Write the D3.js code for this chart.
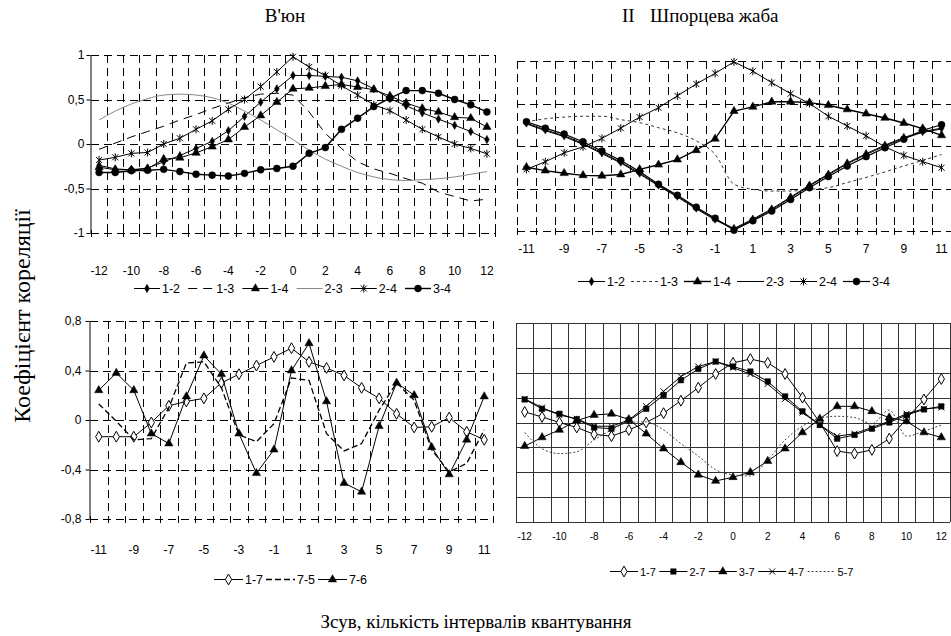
<!DOCTYPE html>
<html lang="uk">
<head>
<meta charset="UTF-8">
<title>Коефіцієнт кореляції</title>
<script src="https://d3js.org/d3.v7.min.js"></script>
<style>
  body { margin: 0; background: #fff; }
  svg { display: block; }
  .caption { font-family: "Liberation Serif", "Times New Roman", serif; fill: #000; }
  .lbl { font-family: "Liberation Sans", Arial, sans-serif; fill: #000; }
</style>
</head>
<body>
<svg id="chart" width="951" height="636"></svg>
<script>
// shifts (quantisation intervals)
const lagsEven = [-12,-11,-10,-9,-8,-7,-6,-5,-4,-3,-2,-1,0,1,2,3,4,5,6,7,8,9,10,11,12];
const lagsOdd  = [-11,-10,-9,-8,-7,-6,-5,-4,-3,-2,-1,0,1,2,3,4,5,6,7,8,9,10,11];
const ticksEven = [-12,-10,-8,-6,-4,-2,0,2,4,6,8,10,12];
const ticksOdd  = [-11,-9,-7,-5,-3,-1,1,3,5,7,9,11];

// В'юн, top
const vyun12 = [-0.24,-0.28,-0.29,-0.27,-0.20,-0.13,-0.05,0.03,0.15,0.31,0.47,0.62,0.77,0.77,0.76,0.75,0.71,0.62,0.51,0.43,0.35,0.28,0.21,0.14,0.05];
const vyun13 = [-0.06,0.01,0.08,0.14,0.20,0.27,0.33,0.40,0.46,0.52,0.56,0.57,0.55,0.36,0.12,-0.05,-0.20,-0.28,-0.33,-0.39,-0.44,-0.54,-0.59,-0.64,-0.62];
const vyun14 = [-0.26,-0.29,-0.29,-0.28,-0.17,-0.155,-0.10,-0.03,0.05,0.19,0.32,0.47,0.62,0.63,0.65,0.67,0.64,0.61,0.54,0.46,0.40,0.36,0.30,0.29,0.19];
const vyun23 = [0.27,0.37,0.45,0.51,0.55,0.56,0.55,0.52,0.46,0.37,0.27,0.16,0.05,-0.07,-0.17,-0.25,-0.32,-0.37,-0.40,-0.41,-0.40,-0.39,-0.37,-0.34,-0.31];
const vyun24 = [-0.18,-0.15,-0.105,-0.095,0.0,0.065,0.165,0.26,0.39,0.50,0.645,0.81,0.98,0.865,0.77,0.655,0.55,0.44,0.375,0.27,0.165,0.08,0.0,-0.05,-0.11];
const vyun34 = [-0.32,-0.32,-0.30,-0.295,-0.285,-0.31,-0.34,-0.35,-0.36,-0.33,-0.29,-0.275,-0.25,-0.105,-0.04,0.165,0.29,0.42,0.515,0.60,0.60,0.57,0.50,0.44,0.36];

// Шпорцева жаба, top
const zhaba12 = [0.27,0.19,0.12,0.03,-0.08,-0.19,-0.32,-0.46,-0.59,-0.73,-0.86,-0.97,-0.86,-0.74,-0.60,-0.46,-0.33,-0.20,-0.09,0.01,0.10,0.17,0.21];
const zhaba13 = [0.285,0.32,0.34,0.35,0.35,0.31,0.275,0.215,0.155,0.06,-0.10,-0.45,-0.51,-0.53,-0.53,-0.51,-0.49,-0.43,-0.37,-0.305,-0.235,-0.17,-0.10];
const zhaba14 = [-0.25,-0.29,-0.32,-0.345,-0.35,-0.335,-0.275,-0.22,-0.16,-0.05,0.085,0.41,0.46,0.52,0.52,0.51,0.48,0.43,0.38,0.33,0.27,0.205,0.125];
const zhaba23 = [0.26,0.18,0.11,0.02,-0.09,-0.20,-0.33,-0.47,-0.60,-0.74,-0.87,-0.98,-0.87,-0.75,-0.61,-0.47,-0.34,-0.21,-0.10,0.0,0.09,0.16,0.20];
const zhaba24 = [-0.275,-0.185,-0.08,-0.01,0.09,0.21,0.34,0.45,0.59,0.73,0.855,0.99,0.88,0.745,0.615,0.50,0.35,0.235,0.12,-0.01,-0.11,-0.185,-0.255];
const zhaba34 = [0.285,0.21,0.14,0.05,-0.06,-0.17,-0.30,-0.45,-0.58,-0.72,-0.85,-0.99,-0.88,-0.765,-0.63,-0.49,-0.36,-0.235,-0.125,-0.02,0.08,0.185,0.25];

// В'юн, bottom
const vyun17 = [-0.135,-0.135,-0.135,-0.02,0.115,0.15,0.175,0.30,0.37,0.44,0.51,0.58,0.47,0.42,0.36,0.26,0.175,0.05,-0.06,-0.055,0.02,-0.095,-0.16];
const vyun75 = [0.13,-0.01,-0.16,-0.15,0.10,0.46,0.47,0.26,-0.12,-0.175,-0.03,0.34,0.32,-0.11,-0.25,-0.19,0.08,0.30,0.16,-0.24,-0.42,-0.35,-0.08];
const vyun76 = [0.24,0.38,0.24,-0.11,-0.19,0.19,0.52,0.37,-0.11,-0.43,-0.24,0.40,0.62,0.15,-0.51,-0.58,-0.05,0.30,0.20,-0.22,-0.44,-0.16,0.19];

// Шпорцева жаба, bottom
const zhaba17 = [0.085,0.045,0.0,-0.04,-0.095,-0.11,-0.06,0.0,0.075,0.175,0.28,0.39,0.48,0.51,0.48,0.39,0.20,0.0,-0.23,-0.25,-0.22,-0.13,0.03,0.185,0.35];
const zhaba27 = [0.185,0.11,0.07,0.025,-0.04,-0.05,0.015,0.11,0.22,0.34,0.43,0.49,0.45,0.41,0.33,0.21,0.09,-0.02,-0.13,-0.10,-0.05,0.0,0.06,0.105,0.13];
const zhaba37 = [-0.19,-0.12,-0.06,0.015,0.06,0.07,0.025,-0.09,-0.21,-0.32,-0.42,-0.47,-0.44,-0.40,-0.31,-0.21,-0.08,0.03,0.13,0.13,0.09,0.04,0.01,-0.08,-0.12];
const zhaba47 = [0.19,0.12,0.06,0.03,-0.03,-0.03,0.02,0.13,0.25,0.37,0.45,0.49,0.44,0.39,0.31,0.19,0.08,-0.02,-0.11,-0.09,-0.04,0.01,0.07,0.11,0.12];
const zhaba57 = [-0.08,-0.21,-0.25,-0.235,-0.14,-0.06,0.0,0.005,-0.06,-0.17,-0.27,-0.38,-0.42,-0.43,-0.30,-0.14,-0.03,0.035,0.05,0.04,-0.01,0.10,-0.11,-0.07,-0.02];

const svg = d3.select('#chart');
const commaFmt = d => String(d).replace('.', ',');

// marker paths
function markerPath(kind) {
  switch (kind) {
    case 'diamond':  return d3.symbol(d3.symbolDiamond, 20)();
    case 'odiamond': return d3.symbol(d3.symbolDiamond, 34)();
    case 'triangle': return d3.symbol(d3.symbolTriangle, 30)();
    case 'circle':   return d3.symbol(d3.symbolCircle, 38)();
    case 'square':   return d3.symbol(d3.symbolSquare, 30)();
    case 'star':     return 'M-3,-3L3,3M-3,3L3,-3M0,-4L0,4';
    case 'times':    return 'M-3,-3L3,3M-3,3L3,-3';
  }
}
function styleMarker(sel, kind) {
  const open = kind === 'odiamond', strokeOnly = kind === 'star' || kind === 'times';
  sel.attr('d', markerPath(kind))
    .attr('fill', open ? '#fff' : strokeOnly ? 'none' : '#000')
    .attr('stroke', '#000')
    .attr('stroke-width', open || strokeOnly ? 1 : 0.5);
}

function drawPanel(cfg) {
  const g = svg.append('g');
  const x = d3.scaleBand().domain(cfg.lags).range([cfg.left, cfg.right]);
  const y = d3.scaleLinear().domain(cfg.yDomain).range([cfg.bottom, cfg.top]);
  const mid = d => x(d) + x.bandwidth() / 2;
  const edges = cfg.lags.map(d => x(d)).concat(cfg.right);
  const crisp = v => Math.round(v) + 0.5;

  // grid
  g.selectAll('.vg').data(cfg.yAxis ? edges.slice(1) : edges).join('line')
    .attr('x1', d => crisp(d)).attr('x2', d => crisp(d))
    .attr('y1', cfg.top).attr('y2', cfg.bottom)
    .attr('stroke', cfg.gridColor).attr('stroke-dasharray', cfg.gridDash);
  g.selectAll('.hg').data(cfg.yTicks).join('line')
    .attr('x1', cfg.left).attr('x2', cfg.right)
    .attr('y1', d => crisp(y(d))).attr('y2', d => crisp(y(d)))
    .attr('stroke', cfg.gridColor).attr('stroke-dasharray', cfg.gridDash);

  // small ticks across the bottom line
  if (cfg.gridDash) {
    g.selectAll('.bt').data(edges).join('line')
      .attr('x1', d => crisp(d)).attr('x2', d => crisp(d))
      .attr('y1', cfg.bottom - 3).attr('y2', cfg.bottom + 4)
      .attr('stroke', '#000');
  }

  if (cfg.yAxis) {
    const ax = g.append('g').attr('transform', `translate(${crisp(cfg.left) - 1},0)`)
      .call(d3.axisLeft(y).tickValues(cfg.yTicks).tickSize(4).tickSizeOuter(0)
        .tickPadding(cfg.yPad).tickFormat(commaFmt));
    ax.attr('font-family', null).attr('font-size', null);
    ax.selectAll('text').attr('class', 'lbl').style('font-size', cfg.font + 'px');
  }

  const xa = g.append('g').attr('transform', `translate(0,${cfg.bottom + cfg.labelGap})`)
    .call(d3.axisBottom(x).tickValues(cfg.labelLags).tickSize(0).tickPadding(0));
  xa.select('.domain').remove();
  xa.attr('font-family', null).attr('font-size', null);
  xa.selectAll('text').attr('class', 'lbl').style('font-size', cfg.font + 'px');

  cfg.series.forEach(s => {
    const line = d3.line().x((v, i) => mid(cfg.lags[i])).y(v => y(v))
      .curve(s.smooth ? d3.curveMonotoneX : d3.curveLinear);
    g.append('path').datum(s.values).attr('d', line)
      .attr('fill', 'none').attr('stroke', s.color || '#000')
      .attr('stroke-width', s.width || 1)
      .attr('stroke-dasharray', s.dash || null);
    if (s.marker) {
      g.selectAll(null).data(s.values).join('path')
        .attr('transform', (v, i) => `translate(${mid(cfg.lags[i])},${y(v)})`)
        .call(styleMarker, s.marker);
    }
  });

  // legend
  const lg = cfg.legend;
  cfg.series.forEach((s, i) => {
    const x0 = lg.x + i * lg.step;
    const it = g.append('g');
    it.append('line').attr('x1', x0).attr('x2', x0 + lg.len)
      .attr('y1', lg.y + 0.5).attr('y2', lg.y + 0.5)
      .attr('stroke', s.color || '#000').attr('stroke-width', s.width || 1)
      .attr('stroke-dasharray', s.dash || null);
    if (s.marker) {
      it.append('path').attr('transform', `translate(${x0 + lg.len / 2},${lg.y + 0.5})`)
        .call(styleMarker, s.marker);
    }
    it.append('text').attr('class', 'lbl').attr('x', x0 + lg.len + 2).attr('y', lg.y + 5)
      .style('font-size', lg.font + 'px').text(s.name);
  });
}

drawPanel({
  lags: lagsEven, labelLags: ticksEven, left: 91, right: 495, top: 55, bottom: 233,
  yDomain: [-1, 1], yTicks: [-1, -0.5, 0, 0.5, 1], yAxis: true, yPad: 2,
  gridDash: '8,5', gridColor: '#000', labelGap: 33, font: 12,
  legend: { x: 134, y: 288, step: 54.2, len: 26, font: 12.5 },
  series: [
    { name: '1-2', values: vyun12, marker: 'diamond' },
    { name: '1-3', values: vyun13, dash: '9,6' },
    { name: '1-4', values: vyun14, marker: 'triangle' },
    { name: '2-3', values: vyun23, color: '#888', smooth: true },
    { name: '2-4', values: vyun24, marker: 'star' },
    { name: '3-4', values: vyun34, marker: 'circle', width: 1.4 }
  ]
});

drawPanel({
  lags: lagsOdd, labelLags: ticksOdd, left: 517, right: 951, top: 61, bottom: 231,
  yDomain: [-1, 1], yTicks: [-1, -0.5, 0, 0.5, 1], yAxis: false,
  gridDash: '8,5', gridColor: '#000', labelGap: 13, font: 12,
  legend: { x: 578, y: 281, step: 53, len: 27, font: 12.5 },
  series: [
    { name: '1-2', values: zhaba12, marker: 'diamond' },
    { name: '1-3', values: zhaba13, dash: '3,3', color: '#333', smooth: true },
    { name: '1-4', values: zhaba14, marker: 'triangle', width: 1.4 },
    { name: '2-3', values: zhaba23, width: 1 },
    { name: '2-4', values: zhaba24, marker: 'star' },
    { name: '3-4', values: zhaba34, marker: 'circle', width: 1.2 }
  ]
});

drawPanel({
  lags: lagsOdd, labelLags: ticksOdd, left: 90, right: 493, top: 321, bottom: 519,
  yDomain: [-0.8, 0.8], yTicks: [-0.8, -0.4, 0, 0.4, 0.8], yAxis: true, yPad: 4,
  gridDash: '8,5', gridColor: '#000', labelGap: 26, font: 12,
  legend: { x: 214, y: 579, step: 52, len: 29, font: 12.5 },
  series: [
    { name: '1-7', values: vyun17, marker: 'odiamond' },
    { name: '7-5', values: vyun75, dash: '6,3', width: 1.3 },
    { name: '7-6', values: vyun76, marker: 'triangle' }
  ]
});

drawPanel({
  lags: lagsEven, labelLags: ticksEven, left: 516, right: 950, top: 323, bottom: 522,
  yDomain: [-0.8, 0.8], yTicks: [-0.8, -0.6, -0.4, -0.2, 0, 0.2, 0.4, 0.6, 0.8], yAxis: false,
  gridDash: null, gridColor: '#333', labelGap: 11, font: 10,
  legend: { x: 610, y: 571, step: 49.4, len: 28, font: 11 },
  series: [
    { name: '1-7', values: zhaba17, marker: 'odiamond' },
    { name: '2-7', values: zhaba27, marker: 'square' },
    { name: '3-7', values: zhaba37, marker: 'triangle' },
    { name: '4-7', values: zhaba47, marker: 'times' },
    { name: '5-7', values: zhaba57, dash: '2,2', color: '#444', smooth: true }
  ]
});

// captions
svg.append('text').attr('class', 'caption').attr('x', 285).attr('y', 22)
  .attr('text-anchor', 'middle').style('font-size', '19px').text("В'юн");
svg.append('text').attr('class', 'caption').attr('x', 622).attr('y', 22)
  .style('font-size', '19px').text('ІІ');
svg.append('text').attr('class', 'caption').attr('x', 650).attr('y', 22)
  .style('font-size', '19px').text('Шпорцева жаба');
svg.append('text').attr('class', 'caption')
  .attr('transform', 'translate(30,316) rotate(-90)')
  .attr('text-anchor', 'middle').style('font-size', '24px').text('Коефіцієнт кореляції');
svg.append('text').attr('class', 'caption').attr('x', 476).attr('y', 628)
  .attr('text-anchor', 'middle').style('font-size', '19px')
  .text('Зсув, кількість інтервалів квантування');
</script>
</body>
</html>
